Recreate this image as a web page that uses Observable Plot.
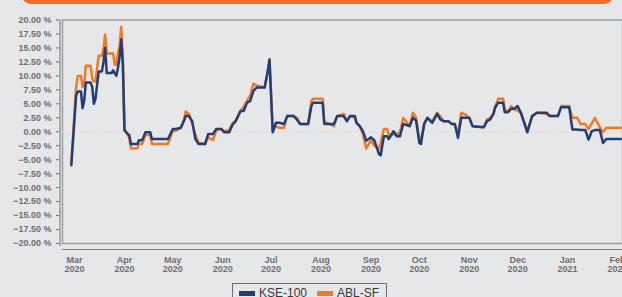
<!DOCTYPE html>
<html>
<head>
<meta charset="utf-8">
<script src="https://cdn.jsdelivr.net/npm/d3@7"></script>
<script src="https://cdn.jsdelivr.net/npm/@observablehq/plot@0.6"></script>
<style>
  html, body { margin: 0; padding: 0; background: #e6e7e8; overflow: hidden; }
  body { width: 622px; height: 297px; position: relative; font-family: "Liberation Sans", Arial, sans-serif; }
  #banner { position: absolute; left: 20px; top: -20px; width: 595px; height: 24px; background: #f26c23; border-radius: 12px; }
  #chart { position: absolute; left: 0; top: 0; }
  #legend { position: absolute; left: 232px; top: 283px; display: flex; align-items: center; border: 1px solid #6d6e71; padding: 1px 7px 2px 6px; height: 16px; font-size: 12px; color: #3a3a3a; white-space: nowrap; }
  .sw { display: inline-block; width: 16px; height: 5px; margin-right: 4px; }
</style>
</head>
<body>
<div id="banner"></div>
<div id="chart"></div>
<div id="legend"></div>
<script>
const seriesNames = ["KSE-100", "ABL-SF"];
const seriesColors = ["#203f7a", "#f47a22"];

const dates = [
  "2020-02-28","2020-03-02","2020-03-03","2020-03-05","2020-03-06","2020-03-07","2020-03-08","2020-03-11",
  "2020-03-12","2020-03-13","2020-03-14","2020-03-16","2020-03-18","2020-03-19","2020-03-20","2020-03-21",
  "2020-03-24","2020-03-25","2020-03-26","2020-03-27","2020-03-28","2020-03-29","2020-03-30","2020-03-31",
  "2020-04-01","2020-04-03","2020-04-04","2020-04-05","2020-04-09","2020-04-10","2020-04-12","2020-04-14",
  "2020-04-17","2020-04-18","2020-04-28","2020-05-01","2020-05-03","2020-05-06","2020-05-08","2020-05-09",
  "2020-05-11","2020-05-13","2020-05-15","2020-05-17","2020-05-21","2020-05-23","2020-05-26","2020-05-28",
  "2020-05-31","2020-06-02","2020-06-05","2020-06-07","2020-06-09","2020-06-12","2020-06-14","2020-06-16",
  "2020-06-18","2020-06-20","2020-06-22","2020-06-27","2020-06-29","2020-06-30","2020-07-02","2020-07-04",
  "2020-07-06","2020-07-09","2020-07-11","2020-07-15","2020-07-17","2020-07-19","2020-07-24","2020-07-26",
  "2020-07-27","2020-08-02","2020-08-03","2020-08-09","2020-08-11","2020-08-15","2020-08-17","2020-08-19",
  "2020-08-22","2020-08-23","2020-08-25","2020-08-27","2020-08-29","2020-09-01","2020-09-03","2020-09-06",
  "2020-09-07","2020-09-09","2020-09-11","2020-09-12","2020-09-15","2020-09-17","2020-09-19","2020-09-21",
  "2020-09-23","2020-09-25","2020-09-27","2020-09-29","2020-10-01","2020-10-02","2020-10-04","2020-10-06",
  "2020-10-09","2020-10-12","2020-10-14","2020-10-16","2020-10-19","2020-10-21","2020-10-23","2020-10-25",
  "2020-10-27","2020-10-30","2020-11-01","2020-11-03","2020-11-10","2020-11-12","2020-11-14","2020-11-16",
  "2020-11-17","2020-11-19","2020-11-22","2020-11-23","2020-11-25","2020-11-27","2020-11-29","2020-12-01",
  "2020-12-03","2020-12-06","2020-12-07","2020-12-10","2020-12-13","2020-12-19","2020-12-21","2020-12-26",
  "2020-12-28","2021-01-02","2021-01-04","2021-01-07","2021-01-09","2021-01-12","2021-01-14","2021-01-16",
  "2021-01-18","2021-01-21","2021-01-23","2021-01-25","2021-02-03"
];

const kse = [
  -6.0, 6.5, 7.2, 7.2, 4.2, 5.5, 8.8, 8.8,
  8.0, 5.0, 5.9, 10.8, 10.8, 12.5, 15.0, 10.5,
  10.5, 11.0, 10.4, 10.0, 11.5, 13.5, 16.5, 12.0,
  0.3, -0.4, -0.6, -2.2, -2.2, -1.5, -1.5, -0.1,
  -0.1, -1.3, -1.3, 0.5, 0.5, 0.7, 2.0, 2.8,
  2.8, 1.9, -1.3, -2.2, -2.2, -0.4, -0.4, 0.5,
  0.5, -0.1, -0.1, 1.2, 1.9, 3.7, 3.7, 5.2,
  5.5, 7.3, 7.9, 7.9, 10.9, 12.9, -0.1, 1.6,
  1.6, 1.4, 2.8, 2.8, 2.2, 1.4, 1.4, 4.6,
  5.2, 5.2, 1.4, 1.4, 2.8, 2.8, 1.9, 2.8,
  2.8, 1.6, 1.0, 0.1, -1.6, -1.0, -1.5, -4.0,
  -4.2, -0.8, -0.8, -1.3, 0.1, -0.8, -0.8, 1.4,
  1.2, 1.0, 2.5, 2.0, -2.0, -2.2, 1.4, 2.5,
  1.6, 3.2, 2.2, 1.9, 1.9, 1.4, 1.4, -1.1,
  2.5, 2.5, 2.5, 1.0, 0.8, 1.9, 2.2, 3.2,
  4.3, 5.2, 5.2, 3.5, 3.5, 4.1, 4.1, 4.6,
  3.4, 0.8, -0.1, 2.8, 3.4, 3.4, 2.8, 2.8,
  4.4, 4.4, 0.4, 0.4, 0.3, 0.3, -1.4, 0.1,
  0.3, 0.3, -2.0, -1.3, -1.3
];

const abl = [
  -5.8, 8.0, 10.0, 10.0, 8.0, 8.5, 11.8, 11.8,
  9.5, 9.0, 9.0, 13.6, 13.6, 15.0, 17.4, 14.0,
  14.0, 14.0, 12.0, 12.0, 14.0, 15.5, 18.8, 13.0,
  0.3, -0.5, -1.2, -3.0, -3.0, -2.2, -2.2, -0.6,
  -0.6, -2.2, -2.2, 0.2, 0.2, 0.7, 2.2, 3.6,
  3.2, 1.5, -0.5, -2.0, -2.2, -1.0, -1.5, 0.3,
  0.5, 0.1, 0.3, 1.5, 1.9, 3.7, 4.5, 5.5,
  6.5, 8.6, 8.3, 7.9, 10.9, 13.0, 0.3, 1.0,
  0.7, 0.7, 2.8, 2.8, 2.5, 1.4, 1.4, 5.5,
  5.9, 5.9, 1.8, 1.0, 2.8, 3.2, 1.9, 2.8,
  2.5, 1.6, 1.0, -0.5, -3.0, -1.5, -2.5, -3.0,
  -2.0, 0.5, 0.5, -0.5, -0.5, -0.5, 0.0, 2.5,
  1.8, 1.0, 3.4, 2.5, -1.5, -1.5, 1.4, 2.5,
  1.8, 3.4, 2.8, 1.9, 1.9, 1.4, 1.4, -0.5,
  3.4, 3.0, 2.5, 1.0, 0.8, 2.2, 2.5, 3.2,
  4.5, 5.9, 5.9, 4.0, 3.6, 4.6, 4.0, 3.8,
  3.4, 1.0, 0.2, 2.8, 3.4, 3.2, 2.8, 2.8,
  4.6, 4.6, 2.5, 2.5, 1.4, 1.4, 0.5, 1.5,
  2.5, 0.8, -0.1, 0.7, 0.7
];

const tickDates = ["2020-03-01","2020-04-01","2020-05-01","2020-06-01","2020-07-01","2020-08-01",
  "2020-09-01","2020-10-01","2020-11-01","2020-12-01","2021-01-01","2021-02-01"];
const tickLabels = ["Mar\n2020","Apr\n2020","May\n2020","Jun\n2020","Jul\n2020","Aug\n2020",
  "Sep\n2020","Oct\n2020","Nov\n2020","Dec\n2020","Jan\n2021","Feb\n2021"];
const yTicks = [-20, -17.5, -15, -12.5, -10, -7.5, -5, -2.5, 0, 2.5, 5, 7.5, 10, 12.5, 15, 17.5, 20];
const yDomain = [-20, 20];
const xDomain = ["2020-02-22T13:00:00Z", "2021-02-04T02:00:00Z"];

const rows = dates.map((d, i) => ({date: new Date(d), kse: kse[i], abl: abl[i]}));
const tickDateObjs = tickDates.map(d => new Date(d));
const labelByTime = new Map(tickDateObjs.map((d, i) => [+d, tickLabels[i]]));
const xDom = xDomain.map(d => new Date(d));
const fmt = d3.format(".2f");

const chart = Plot.plot({
  width: 622,
  height: 278,
  marginLeft: 62,
  marginRight: 0,
  marginTop: 19.5,
  marginBottom: 35,
  style: {background: "transparent", fontFamily: "'Liberation Sans', Arial, sans-serif", fontSize: "9px", fontWeight: "bold", color: "#6d6e71", overflow: "visible"},
  x: {type: "utc", domain: xDom},
  y: {domain: yDomain},
  marks: [
    Plot.frame({stroke: "#9d9fa2", strokeWidth: 1.5}),
    Plot.ruleX([xDom[0]], {dx: -2.5, insetBottom: -3, stroke: "#808285", strokeWidth: 1.2}),
    Plot.ruleY([yDomain[0]], {dy: 6, stroke: "#808285", strokeWidth: 1.2}),
    Plot.ruleY([0], {stroke: "#f2c8a6", strokeDasharray: "1,5", strokeWidth: 1}),
    Plot.axisY({ticks: yTicks, tickFormat: v => fmt(v) + " %", tickSize: 3, tickPadding: 5, dx: -3, stroke: "#6d6e71", fill: "#6d6e71", label: null}),
    Plot.axisX({ticks: tickDateObjs, tickFormat: d => labelByTime.get(+d), tickSize: 0, tickPadding: 12, lineHeight: 1.1, fill: "#6d6e71", label: null}),
    Plot.lineY(rows, {x: "date", y: "abl", stroke: seriesColors[1], strokeWidth: 2.5, strokeLinejoin: "round"}),
    Plot.lineY(rows, {x: "date", y: "kse", stroke: seriesColors[0], strokeWidth: 2.5, strokeLinejoin: "round"})
  ]
});
document.getElementById("chart").appendChild(chart);

const legend = document.getElementById("legend");
seriesNames.forEach((name, i) => {
  const item = document.createElement("span");
  item.style.display = "inline-flex";
  item.style.alignItems = "center";
  item.style.marginRight = i === 0 ? "10px" : "0";
  item.innerHTML = `<span class="sw" style="background:${seriesColors[i]}"></span>${name}`;
  legend.appendChild(item);
});
</script>
</body>
</html>
